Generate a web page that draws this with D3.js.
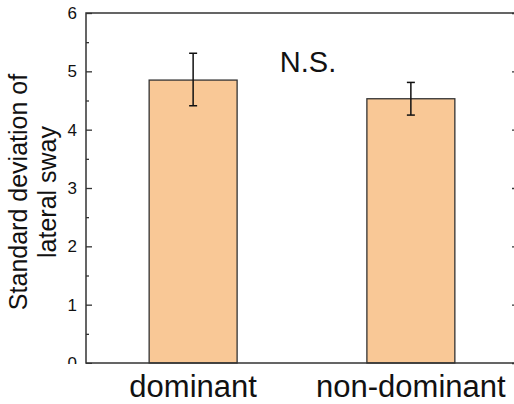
<!DOCTYPE html>
<html>
<head>
<meta charset="utf-8">
<script src="https://cdn.jsdelivr.net/npm/d3@7.9.0/dist/d3.min.js"></script>
<style>
  body { margin: 0; background: #fff; }
  svg { display: block; font-family: Arial, "Liberation Sans", sans-serif; }
</style>
</head>
<body>
<div id="chart"></div>
<script>
const categories = ["dominant", "non-dominant"];
const means = [4.85, 4.53];
const errUpper = [5.31, 4.81];
const errLower = [4.41, 4.25];
const yTicks = [0, 1, 2, 3, 4, 5, 6];
const yMinorTicks = [0.5, 1.5, 2.5, 3.5, 4.5, 5.5];

const width = 514, height = 404;
const margin = { top: 13, right: -4, bottom: 41, left: 86 };
const innerW = width - margin.left - margin.right;
const innerH = height - margin.top - margin.bottom;

const svg = d3.select("#chart").append("svg")
  .attr("width", width)
  .attr("height", height);

// the bottom tick label is cut off in the original
svg.append("clipPath").attr("id", "lblclip")
  .append("rect")
  .attr("x", -margin.left)
  .attr("y", -margin.top)
  .attr("width", width)
  .attr("height", innerH + margin.top + 1);

const g = svg.append("g")
  .attr("transform", `translate(${margin.left},${margin.top})`);

const x = d3.scaleBand()
  .domain(categories)
  .range([0, innerW])
  .paddingInner(0.596)
  .paddingOuter(0.29);

const y = d3.scaleLinear().domain([0, 6]).range([innerH, 0]);

// bars
g.selectAll(".bar")
  .data(categories)
  .enter().append("rect")
  .attr("class", "bar")
  .attr("x", d => x(d))
  .attr("y", (d, i) => y(means[i]))
  .attr("width", x.bandwidth())
  .attr("height", (d, i) => innerH - y(means[i]))
  .attr("fill", "#f9c896")
  .attr("stroke", "#333")
  .attr("stroke-width", 1.3);

// error bars
const eb = g.selectAll(".err")
  .data(categories)
  .enter().append("g")
  .attr("class", "err")
  .attr("stroke", "#111")
  .attr("stroke-width", 1.5);

eb.append("line")
  .attr("x1", d => x(d) + x.bandwidth() / 2)
  .attr("x2", d => x(d) + x.bandwidth() / 2)
  .attr("y1", (d, i) => y(errUpper[i]))
  .attr("y2", (d, i) => y(errLower[i]));

[errUpper, errLower].forEach(arr => {
  eb.append("line")
    .attr("x1", d => x(d) + x.bandwidth() / 2 - 4)
    .attr("x2", d => x(d) + x.bandwidth() / 2 + 4)
    .attr("y1", (d, i) => y(arr[i]))
    .attr("y2", (d, i) => y(arr[i]));
});

// frame
g.append("rect")
  .attr("width", innerW)
  .attr("height", innerH)
  .attr("fill", "none")
  .attr("stroke", "#333")
  .attr("stroke-width", 1.5);

// left axis, inward ticks
const leftAxis = g.append("g")
  .attr("clip-path", "url(#lblclip)")
  .call(d3.axisLeft(y).tickValues(yTicks).tickSize(-6).tickPadding(9).tickFormat(d3.format("d")));
leftAxis.select(".domain").remove();
leftAxis.selectAll("line").attr("stroke", "#333").attr("stroke-width", 1.3);
leftAxis.selectAll("text")
  .attr("font-size", 17)
  .attr("fill", "#111")
  .attr("font-family", "Arial, 'Liberation Sans', sans-serif");

g.append("g")
  .call(d3.axisLeft(y).tickValues(yMinorTicks).tickSize(-3).tickFormat(""))
  .call(s => s.select(".domain").remove())
  .selectAll("line").attr("stroke", "#333").attr("stroke-width", 1.3);

// right axis ticks (inward)
g.append("g")
  .attr("transform", `translate(${innerW},0)`)
  .call(d3.axisRight(y).tickValues(yTicks).tickSize(-6).tickFormat(""))
  .call(s => s.select(".domain").remove())
  .selectAll("line").attr("stroke", "#333").attr("stroke-width", 1.3);

// x labels
g.selectAll(".xlab")
  .data(categories)
  .enter().append("text")
  .attr("class", "xlab")
  .attr("x", d => x(d) + x.bandwidth() / 2)
  .attr("y", innerH + 34)
  .attr("text-anchor", "middle")
  .attr("font-size", 31)
  .attr("fill", "#111")
  .text(d => d);

// y title
const yt = svg.append("text")
  .attr("transform", `translate(27,${margin.top + innerH / 2 + 4}) rotate(-90)`)
  .attr("text-anchor", "middle")
  .attr("font-size", 25)
  .attr("fill", "#111");
yt.append("tspan").attr("x", 0).attr("dy", 0).text("Standard deviation of");
yt.append("tspan").attr("x", 0).attr("dy", 29).text("lateral sway");

// N.S. annotation
svg.append("text")
  .attr("x", 308)
  .attr("y", 72)
  .attr("text-anchor", "middle")
  .attr("font-size", 29)
  .attr("fill", "#111")
  .text("N.S.");
</script>
</body>
</html>
